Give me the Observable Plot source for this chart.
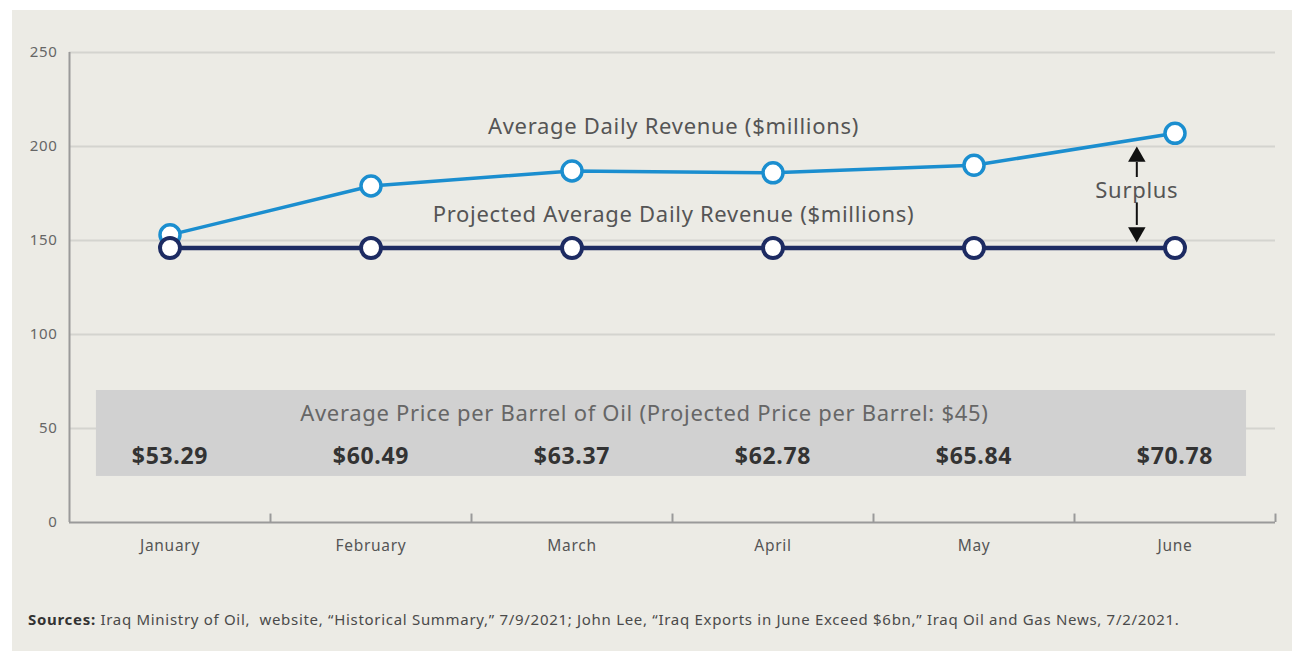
<!DOCTYPE html>
<html>
<head>
<meta charset="utf-8">
<script src="https://cdn.jsdelivr.net/npm/d3@7"></script>
<script src="https://cdn.jsdelivr.net/npm/@observablehq/plot@0.6"></script>
<style>
  html, body { margin: 0; padding: 0; background: #ffffff; }
  #panel {
    position: absolute; left: 12px; top: 10px; width: 1280px; height: 641px;
    background: #ecebe5; font-family: "Noto Sans", "Open Sans", sans-serif;
  }
  #chart { position: absolute; left: 0; top: 0; }
  #chart svg text { letter-spacing: 0.7px; }
  #caption {
    position: absolute; left: 16px; top: 599px; font-size: 15px; color: #4a4a4a;
    white-space: nowrap; letter-spacing: 0.7px;
  }
  #caption b { font-weight: 700; color: #333; }
</style>
</head>
<body>
<div id="panel">
  <div id="chart"></div>
  <div id="caption"><b>Sources:</b> Iraq Ministry of Oil,&nbsp; website, “Historical Summary,” 7/9/2021; John Lee, “Iraq Exports in June Exceed $6bn,” Iraq Oil and Gas News, 7/2/2021.</div>
</div>
<script>
// ---- data ----
const months = ["January", "February", "March", "April", "May", "June"];
const actualRevenue = [153, 179, 187, 186, 190, 207];
const projectedRevenue = [146, 146, 146, 146, 146, 146];
const barrelPrices = ["$53.29", "$60.49", "$63.37", "$62.78", "$65.84", "$70.78"];
const yTicks = [0, 50, 100, 150, 200, 250];
const actualLabel = "Average Daily Revenue ($millions)";
const projectedLabel = "Projected Average Daily Revenue ($millions)";
const boxTitle = "Average Price per Barrel of Oil (Projected Price per Barrel: $45)";
const surplusLabel = "Surplus";

// ---- derived tables ----
const idx = months.map((_, i) => i);
const actual = idx.map(i => ({i, v: actualRevenue[i]}));
const projected = idx.map(i => ({i, v: projectedRevenue[i]}));
const prices = idx.map(i => ({i, p: barrelPrices[i]}));
const boundaries = idx.map(i => i + 0.5);

const blue = "#1b8ecf";
const navy = "#1d2b62";
const gray = "#666";

const chart = Plot.plot({
  width: 1280,
  height: 560,
  marginLeft: 57,
  marginRight: 17,
  marginTop: 42,
  marginBottom: 48,
  style: {background: "transparent", fontFamily: "'Noto Sans', 'Open Sans', sans-serif", overflow: "visible"},
  x: {domain: [-0.5, 5.5], axis: null},
  y: {domain: [0, 250], axis: null},
  marks: [
    Plot.gridY(yTicks.slice(1), {stroke: "#d4d4cf", strokeWidth: 2, strokeOpacity: 1}),
    Plot.axisY({ticks: yTicks, tickSize: 0, tickPadding: 12, fontSize: 15, color: "#666", label: null}),
    // price box
    Plot.rect([{}], {x1: -0.366, x2: 5.356, y1: 24.5, y2: 70.2, fill: "#d1d1d1"}),
    Plot.text([boxTitle], {x: 2.36, y: 58, text: d => d, fontSize: 22, fill: gray}),
    Plot.text(prices, {x: "i", y: 35.2, text: "p", fontSize: 23, fontWeight: "bold", fill: "#333"}),
    // axes frame
    Plot.ruleY([0], {x1: -0.5, x2: 5.5, stroke: "#9a9a9a", strokeWidth: 2}),
    Plot.ruleX([-0.5], {y1: 0, y2: 250, stroke: "#9a9a9a", strokeWidth: 2}),
    Plot.ruleX(boundaries, {y1: 0, y2: 4.5, stroke: "#9a9a9a", strokeWidth: 2}),
    Plot.axisX({ticks: idx, tickFormat: i => months[i], tickSize: 0, tickPadding: 17, fontSize: 15.5, color: "#555", label: null}),
    // lines
    Plot.line(actual, {x: "i", y: "v", stroke: blue, strokeWidth: 3.5}),
    Plot.dot(actual, {x: "i", y: "v", r: 10, fill: "white", stroke: blue, strokeWidth: 3.5}),
    Plot.line(projected, {x: "i", y: "v", stroke: navy, strokeWidth: 4.5}),
    Plot.dot(projected, {x: "i", y: "v", r: 10, fill: "white", stroke: navy, strokeWidth: 4}),
    // labels
    Plot.text([actualLabel], {x: 2.505, y: 210.5, text: d => d, fontSize: 22, fill: "#555"}),
    Plot.text([projectedLabel], {x: 2.505, y: 163.5, text: d => d, fontSize: 22, fill: "#555"}),
    // surplus annotation
    Plot.text([surplusLabel], {x: 4.81, y: 176.6, text: d => d, fontSize: 22, fill: "#555"}),
    Plot.ruleX([4.81], {y1: 183.5, y2: 191.5, stroke: "#111", strokeWidth: 2}),
    Plot.dot([4.81], {x: d => d, y: 194.6, symbol: "triangle", r: 6.5, fill: "#111", stroke: "none"}),
    Plot.ruleX([4.81], {y1: 158, y2: 170, stroke: "#111", strokeWidth: 2}),
    Plot.dot([4.81], {x: d => d, y: 154.3, symbol: "triangle", r: 6.5, rotate: 180, fill: "#111", stroke: "none"})
  ]
});
document.getElementById("chart").appendChild(chart);
</script>
</body>
</html>
